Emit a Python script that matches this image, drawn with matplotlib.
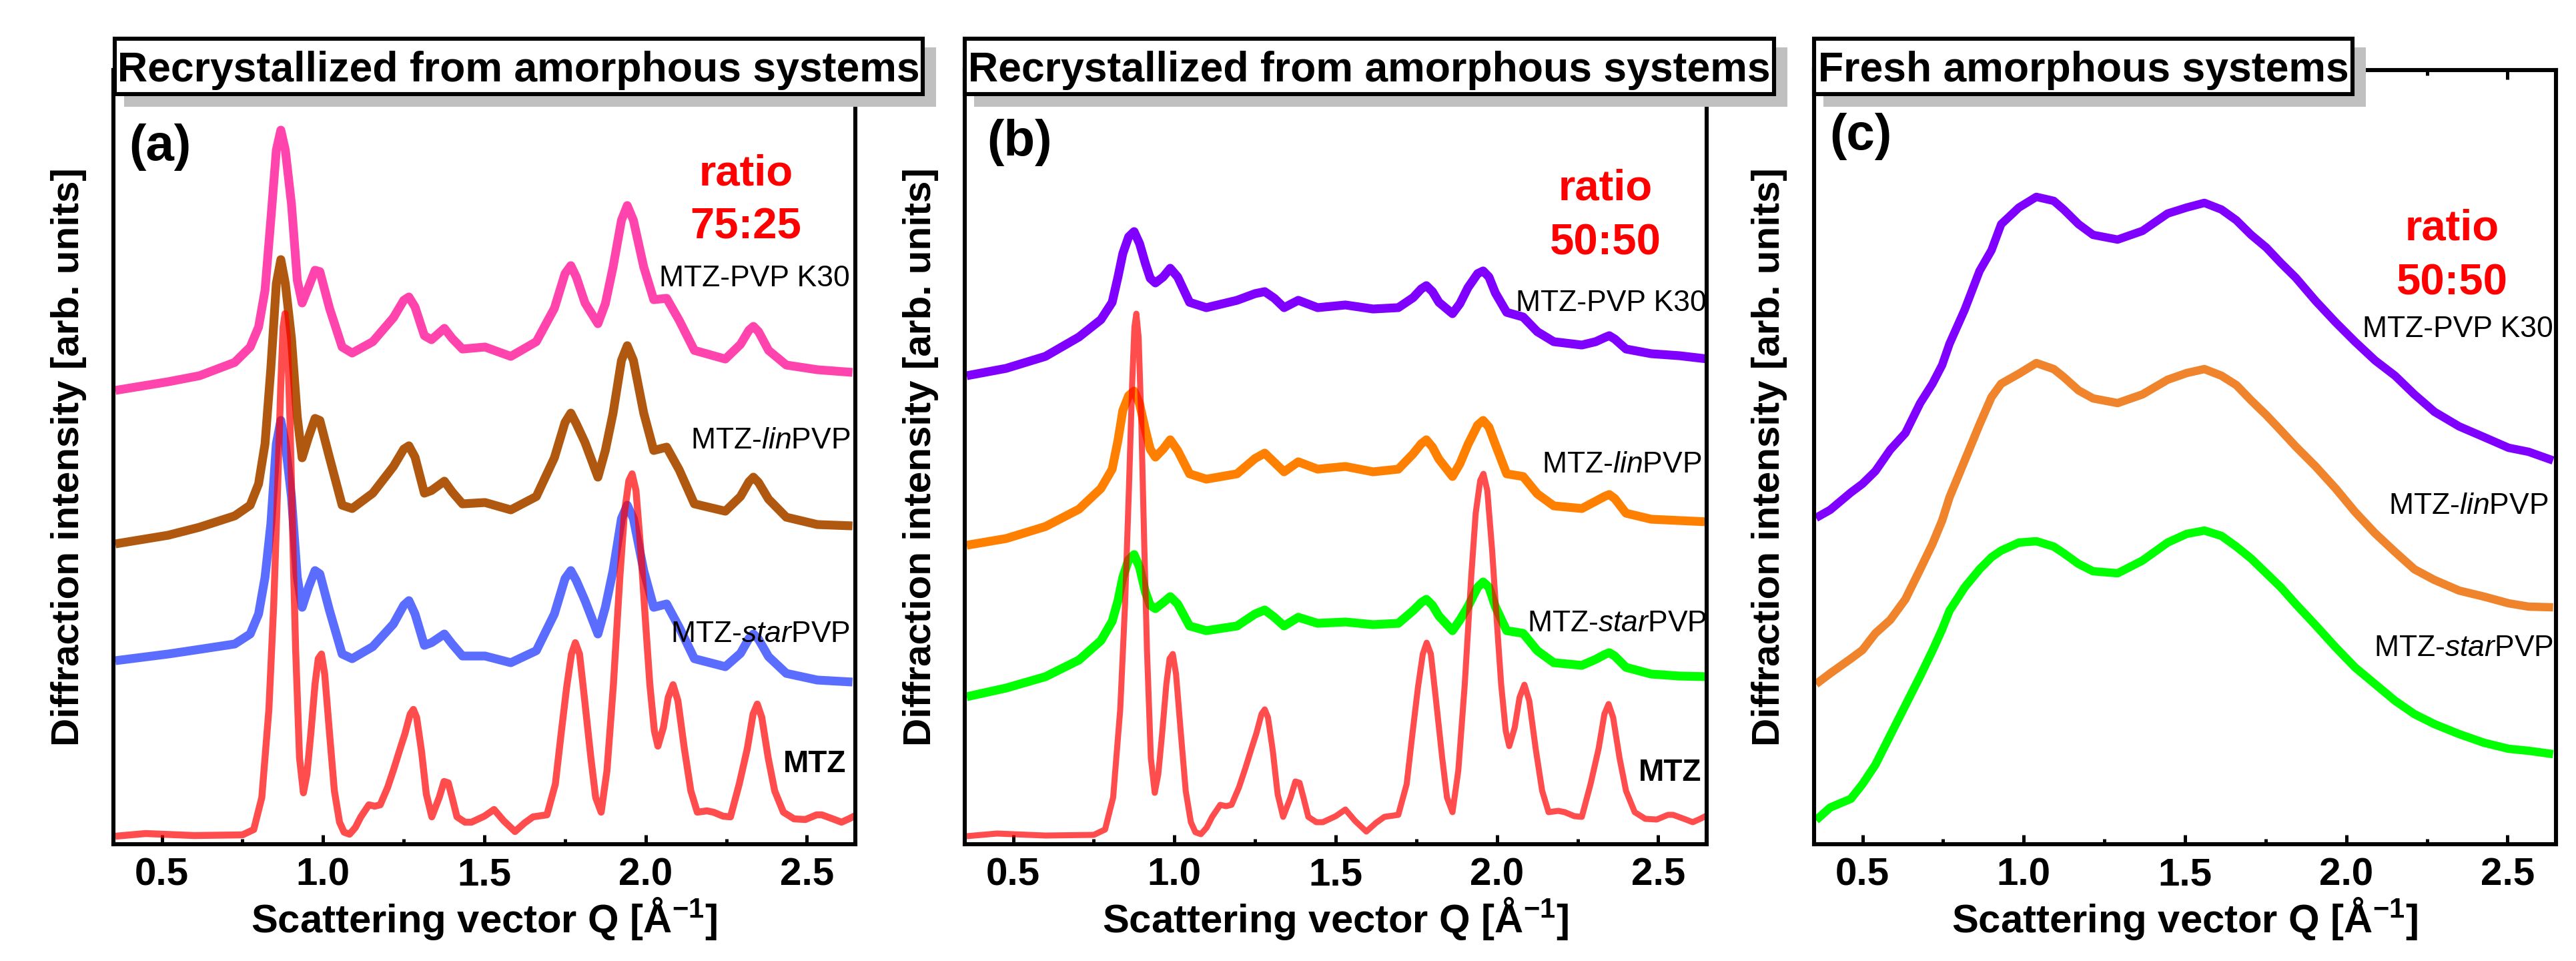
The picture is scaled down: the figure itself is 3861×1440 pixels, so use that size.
import matplotlib
matplotlib.use('Agg')
import matplotlib.pyplot as plt
from matplotlib.transforms import Affine2D
from matplotlib.patches import Rectangle
from matplotlib.ticker import MultipleLocator, FormatStrFormatter

# ---------------- data (intensity in arb. units) ----------------
# MTZ (crystalline reference, same in panels a and b)
q_mtz = [0.356, 0.45, 0.60, 0.75, 0.785, 0.81, 0.832, 0.847, 0.859, 0.869, 0.876, 0.882, 0.889,
         0.897, 0.906, 0.915, 0.927, 0.939, 0.95, 0.962, 0.975, 0.985, 0.995, 1.005, 1.02, 1.035,
         1.051, 1.065, 1.082, 1.10, 1.117, 1.142, 1.16, 1.177, 1.20, 1.22, 1.24, 1.254, 1.27,
         1.28, 1.29, 1.305, 1.32, 1.337, 1.36, 1.375, 1.388, 1.40, 1.415, 1.44, 1.46, 1.50, 1.53,
         1.56, 1.595, 1.625, 1.651, 1.694, 1.72, 1.738, 1.755, 1.77, 1.782, 1.795, 1.81, 1.83,
         1.845, 1.862, 1.88, 1.90, 1.92, 1.934, 1.948, 1.958, 1.97, 1.985, 2.0, 2.013, 2.027,
         2.038, 2.055, 2.07, 2.085, 2.10, 2.12, 2.14, 2.16, 2.19, 2.21, 2.24, 2.263, 2.29, 2.315,
         2.333, 2.346, 2.36, 2.38, 2.40, 2.427, 2.46, 2.495, 2.53, 2.546, 2.58, 2.607, 2.63, 2.654]
i_mtz = [12, 16, 13, 14, 22, 70, 202, 360, 533, 690, 775, 795, 760,
         640, 459, 290, 129, 77, 105, 166, 240, 278, 285, 255, 166, 80,
         33, 18, 15, 25, 41, 59, 57, 59, 85, 114, 145, 166, 195,
         202, 190, 140, 75, 41, 70, 94, 92, 70, 41, 33, 33, 42, 52,
         35, 19, 32, 41, 44, 90, 166, 235, 285, 302, 285, 220, 130,
         70, 48, 110, 239, 400, 496, 545, 555, 530, 440, 330, 239, 170,
         147, 175, 220, 239, 215, 143, 80, 48, 50, 48, 42, 41, 90, 143,
         195, 210, 190, 129, 80, 48, 38, 37, 44, 44, 38, 33, 38, 44]

# panel (a): ratio 75:25
q_a = [0.356, 0.52, 0.617, 0.726, 0.774, 0.80, 0.82, 0.838, 0.855, 0.869, 0.883, 0.902, 0.92,
       0.935, 0.955, 0.975, 0.99, 1.02, 1.059, 1.09, 1.154, 1.218, 1.25, 1.266, 1.285, 1.314,
       1.336, 1.376, 1.40, 1.432, 1.502, 1.582, 1.661, 1.717, 1.75, 1.768, 1.785, 1.812, 1.852,
       1.875, 1.899, 1.925, 1.943, 1.962, 1.994, 2.025, 2.065, 2.104, 2.151, 2.247, 2.294, 2.32,
       2.334, 2.35, 2.381, 2.436, 2.532, 2.641]
i_a_k30 = [680, 693, 702, 722, 745, 775, 830, 936, 1040, 1070, 1040, 959, 845,
           811, 835, 860, 858, 803, 745, 736, 753, 789, 815, 820, 805, 762,
           756, 773, 758, 742, 745, 731, 753, 803, 855, 867, 850, 811, 780,
           810, 865, 935, 957, 935, 865, 816, 818, 785, 740, 727, 749, 770,
           776, 768, 740, 718, 711, 707]
i_a_lin = [450, 463, 475, 492, 508, 540, 600, 713, 840, 876, 840, 758, 640,
           579, 610, 638, 635, 579, 508, 503, 526, 566, 592, 597, 580, 526,
           530, 544, 528, 510, 512, 501, 521, 579, 632, 646, 630, 602, 550,
           590, 646, 725, 747, 725, 646, 590, 595, 561, 510, 499, 521, 543,
           550, 542, 517, 490, 479, 477]
i_a_star = [275, 285, 292, 300, 315, 345, 400, 480, 600, 635, 600, 520, 400,
            355, 385, 410, 405, 350, 285, 278, 296, 330, 358, 365, 345, 298,
            302, 315, 300, 282, 282, 272, 290, 345, 398, 410, 395, 365, 315,
            355, 410, 488, 508, 488, 410, 355, 360, 325, 278, 266, 286, 308,
            315, 307, 281, 256, 246, 243]

# panel (b): ratio 50:50
q_b = [0.356, 0.478, 0.60, 0.704, 0.772, 0.807, 0.825, 0.84, 0.858, 0.875, 0.892, 0.91, 0.925,
       0.941, 0.965, 0.987, 1.01, 1.047, 1.099, 1.194, 1.25, 1.28, 1.31, 1.34, 1.384, 1.444,
       1.53, 1.616, 1.694, 1.74, 1.765, 1.781, 1.80, 1.82, 1.862, 1.885, 1.91, 1.94, 1.957,
       1.975, 1.995, 2.03, 2.081, 2.125, 2.176, 2.263, 2.306, 2.333, 2.348, 2.365, 2.40, 2.478,
       2.565, 2.654]
i_b_k30 = [702, 713, 731, 760, 786, 812, 850, 885, 910, 918, 900, 870, 848,
           841, 850, 863, 850, 812, 804, 815, 825, 828, 818, 804, 815, 804,
           808, 802, 804, 819, 832, 837, 828, 812, 795, 810, 834, 855, 859,
           850, 826, 797, 790, 768, 753, 748, 753, 759, 762, 757, 742, 735,
           732, 727]
i_b_lin = [448, 458, 476, 502, 533, 562, 605, 650, 672, 679, 660, 621, 592,
           580, 592, 606, 590, 555, 547, 555, 578, 586, 572, 558, 573, 562,
           566, 558, 562, 585, 600, 606, 595, 577, 551, 570, 599, 628, 635,
           625, 599, 555, 551, 525, 507, 503, 514, 521, 524, 518, 496, 487,
           485, 483]
i_b_star = [221, 234, 251, 276, 305, 334, 365, 400, 426, 434, 415, 378, 358,
            353, 362, 371, 360, 327, 320, 327, 345, 351, 340, 327, 340, 331,
            333, 329, 331, 350, 362, 367, 358, 342, 320, 336, 356, 385, 393,
            385, 356, 320, 316, 290, 272, 268, 277, 284, 287, 282, 265, 255,
            252, 251]

# panel (c): fresh amorphous, ratio 50:50
q_c = [0.356, 0.40, 0.464, 0.50, 0.54, 0.586, 0.633, 0.679, 0.717, 0.747, 0.77, 0.817, 0.863,
       0.90, 0.93, 0.985, 1.039, 1.093, 1.124, 1.17, 1.215, 1.291, 1.368, 1.446, 1.505, 1.56,
       1.613, 1.659, 1.705, 1.752, 1.797, 1.843, 1.905, 1.967, 2.027, 2.089, 2.151, 2.211,
       2.273, 2.35, 2.427, 2.503, 2.565, 2.641]
i_c_k30 = [489, 501, 527, 540, 559, 591, 616, 661, 690, 718, 750, 801, 859,
           890, 929, 954, 970, 964, 951, 929, 913, 906, 919, 945, 954, 961,
           951, 935, 913, 894, 871, 849, 814, 782, 753, 725, 702, 674,
           648, 626, 610, 594, 588, 575]
i_c_lin = [240, 256, 278, 291, 316, 336, 367, 412, 450, 485, 520, 575, 629,
           670, 690, 705, 721, 712, 700, 680, 668, 661, 674, 696, 706, 712,
           702, 688, 665, 643, 620, 596, 566, 533, 498, 466, 438, 412,
           396, 380, 371, 361, 356, 355]
i_c_star = [36, 55, 68, 90, 119, 163, 208, 252, 290, 322, 350, 385, 412,
            430, 440, 452, 454, 446, 436, 420, 409, 406, 425, 452, 465, 470,
            462, 446, 428, 406, 385, 360, 328, 295, 265, 240, 215, 195,
            180, 165, 152, 143, 140, 135]

panel_titles = ["Recrystallized from amorphous systems",
                "Recrystallized from amorphous systems",
                "Fresh amorphous systems"]
panel_letters = ["(a)", "(b)", "(c)"]
ratio_texts = ["75:25", "50:50", "50:50"]
sample_labels = ["MTZ-PVP K30", r"MTZ-$\mathit{lin}$PVP", r"MTZ-$\mathit{star}$PVP", "MTZ"]
xlabel_text = r"Scattering vector Q [Å$^{\mathbf{-1}}$]"
ylabel_text = "Diffraction intensity [arb. units]"
x_ticks = [0.5, 1.0, 1.5, 2.0, 2.5]

# ---------------- styling ----------------
W, H = 3862, 1440
plt.rcParams['font.family'] = ['Liberation Sans', 'DejaVu Sans']
plt.rcParams['font.weight'] = 'bold'
plt.rcParams['mathtext.fontset'] = 'custom'
plt.rcParams['mathtext.rm'] = 'Liberation Sans:weight=normal'
plt.rcParams['mathtext.it'] = 'Liberation Sans:style=italic:weight=normal'
plt.rcParams['mathtext.bf'] = 'Liberation Sans:weight=bold'

fig = plt.figure(figsize=(W / 100, H / 100), dpi=100)
PX = Affine2D().scale(1 / W, -1 / H).translate(0, 1) + fig.transFigure

AX_LEFT = [170, 1446, 2719]
AX_W = 1112
AX_TOP, AX_BOT = 105, 1265

axes = []
for k in range(3):
    ax = fig.add_axes([AX_LEFT[k] / W, 1 - AX_BOT / H, AX_W / W, (AX_BOT - AX_TOP) / H])
    ax.set_xlim(0.35, 2.65)
    ax.set_ylim(0, AX_BOT - AX_TOP)
    ax.set_yticks([])
    ax.set_xticks(x_ticks)
    ax.xaxis.set_minor_locator(MultipleLocator(0.25))
    ax.xaxis.set_major_formatter(FormatStrFormatter('%.1f'))
    ax.tick_params(axis='x', which='both', direction='in', top=True, width=3.6,
                   labelsize=42, pad=14)
    ax.tick_params(axis='x', which='major', length=10)
    ax.tick_params(axis='x', which='minor', length=6)
    for sp in ax.spines.values():
        sp.set_linewidth(4.4)
    axes.append(ax)

ax_a, ax_b, ax_c = axes
kw = dict(solid_joinstyle='round', solid_capstyle='butt')
ax_a.plot(q_a, i_a_k30, color='#FF45AD', lw=9.5, **kw)
ax_a.plot(q_a, i_a_lin, color='#B0580F', lw=9.5, **kw)
ax_a.plot(q_a, i_a_star, color='#5B6DFF', lw=9.5, **kw)
ax_a.plot(q_mtz, i_mtz, color='#FF0000', alpha=0.7, lw=7.5, **kw)

ax_b.plot(q_b, i_b_k30, color='#8000FF', lw=9.5, **kw)
ax_b.plot(q_b, i_b_lin, color='#FF8000', lw=9.5, **kw)
ax_b.plot(q_b, i_b_star, color='#00FF00', lw=9.5, **kw)
ax_b.plot(q_mtz, i_mtz, color='#FF0000', alpha=0.7, lw=6.5, **kw)

ax_c.plot(q_c, i_c_k30, color='#8000FF', lw=9, **kw)
ax_c.plot(q_c, i_c_lin, color='#F0842C', lw=9, **kw)
ax_c.plot(q_c, i_c_star, color='#00FF00', lw=9, **kw)

# ---------------- title boxes with shadow ----------------
boxes = [(169, 1386), (1443, 2662), (2716, 3529)]
BOX_T, BOX_B = 55, 144
for k, (x0, x1) in enumerate(boxes):
    fig.add_artist(Rectangle((x0 + 17, BOX_T + 16), x1 - x0, BOX_B - BOX_T, transform=PX,
                             facecolor='#C0C0C0', edgecolor='none', zorder=5))
    fig.add_artist(Rectangle((x0 + 3, BOX_T + 3), x1 - x0 - 6, BOX_B - BOX_T - 6, transform=PX,
                             facecolor='white', edgecolor='black', lw=4.4, zorder=6))
    fig.text((x0 + x1) / 2, 122, panel_titles[k], transform=PX, ha='center', va='baseline',
             fontsize=45, fontweight='bold', zorder=7)

# ---------------- texts ----------------
letter_pos = [(193, 240), (1479, 233), (2742, 224)]
for k in range(3):
    fig.text(*letter_pos[k], panel_letters[k], transform=PX, ha='left', va='baseline',
             fontsize=55, fontweight='bold')

ratio_pos = [(1118, 277, 358), (2406, 300, 381), (3675, 360, 441)]
for k in range(3):
    x, y1, y2 = ratio_pos[k]
    fig.text(x, y1, "ratio", transform=PX, ha='center', va='baseline', fontsize=47,
             fontweight='bold', color='#FF0000')
    fig.text(x, y2, ratio_texts[k], transform=PX, ha='center', va='baseline', fontsize=47,
             fontweight='bold', color='#FF0000')

label_pos = [
    [(1274, 429), (1274, 672), (1274, 962), (1268, 1157)],
    [(2558, 466), (2550, 708), (2558, 946), (2550, 1170)],
    [(3827, 505), (3819, 770), (3827, 983)],
]
for k in range(3):
    for j, (x, y) in enumerate(label_pos[k]):
        bold = sample_labels[j] == "MTZ"
        fig.text(x, y, sample_labels[j], transform=PX, ha='right', va='baseline',
                 fontsize=33 if bold else 32, fontweight='bold' if bold else 'normal')

ylab_x = [103, 1380, 2652]
for k in range(3):
    fig.text(ylab_x[k], (AX_TOP + AX_BOT) / 2, ylabel_text, transform=PX, rotation=90,
             ha='center', va='center', fontsize=42, fontweight='bold')
    fig.text(AX_LEFT[k] + AX_W / 2, 1397, xlabel_text, transform=PX, ha='center',
             va='baseline', fontsize=43, fontweight='bold')

fig.savefig('out.png', dpi=100)
